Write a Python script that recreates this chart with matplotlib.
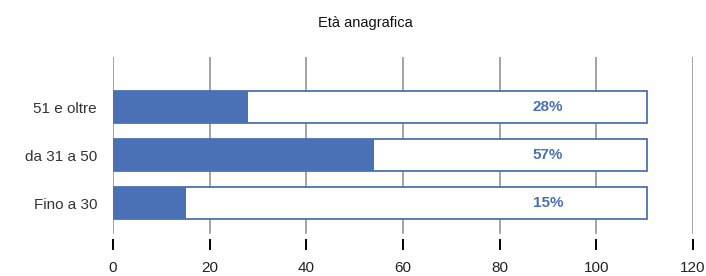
# chart: Età anagrafica, horizontal bars in outlined frames

from matplotlib import use
use("Agg")
from matplotlib.pyplot import figure

#####################################################################

# DATA

categories = ["Fino a 30", "da 31 a 50", "51 e oltre"]
values     = [15, 54, 28]
labels     = ["15%", "57%", "28%"]
frame_max  = 110.5
ticks      = [0, 20, 40, 60, 80, 100, 120]
title      = "Età anagrafica"

#####################################################################

# STYLE

blue  = "#4a71b6"
grey  = "#8a8a8a"
font  = "Liberation Sans"

#####################################################################

# FIGURE

fg = figure(figsize = (7.06, 2.76), dpi = 100)
ax = fg.add_axes([113/706, 26/276, 580/706, 193/276])

pos = list(range(len(categories)))

# vertical grid, stopping short of the tick marks
for t in ticks:
    ax.axvline(t, ymin = 17/193, ymax = 1, color = grey,
               linewidth = 1.1, zorder = 0)

# outline frames and filled bars
ax.barh(pos, [frame_max]*len(pos), height = 0.65, color = "white",
        edgecolor = blue, linewidth = 1.3, zorder = 2)
ax.barh(pos, values, height = 0.65, color = blue, linewidth = 0,
        zorder = 3)

# percentage labels
for p, l in zip(pos, labels):
    ax.text(90, p, l, color = blue, fontweight = "bold", fontsize = 11,
            family = font, ha = "center", va = "center", zorder = 4)

ax.set_xlim(0, 120)
ax.set_ylim(-0.979, 3.042)

ax.set_xticks(ticks)
ax.set_xticklabels([str(t) for t in ticks], family = font, fontsize = 11,
                   color = "#222222")
ax.tick_params(axis = "x", direction = "in", length = 8, width = 1.4,
               color = "black", pad = 8)

ax.set_yticks(pos)
ax.set_yticklabels(categories, family = font, fontsize = 11,
                   color = "#333333")
ax.tick_params(axis = "y", length = 0, pad = 11.5)

for s in ax.spines.values():
    s.set_visible(False)

fg.text(365/706, 1 - 23/276, title, family = font, fontsize = 10.5,
        ha = "center", va = "center", color = "#111111")

fg.savefig("out.png", dpi = 100)
